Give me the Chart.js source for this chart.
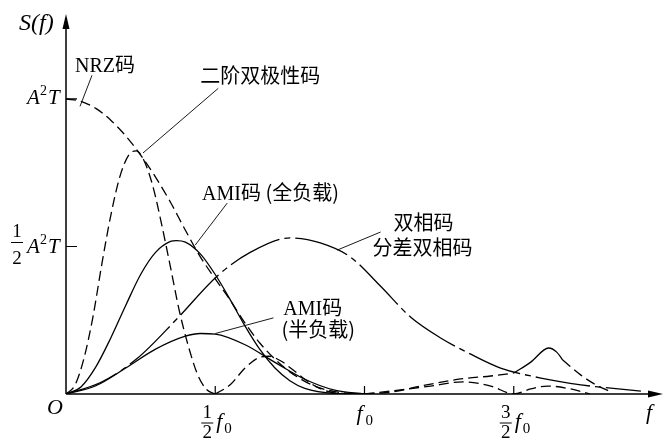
<!DOCTYPE html>
<html>
<head>
<meta charset="utf-8">
<script src="https://cdn.jsdelivr.net/npm/chart.js@4/dist/chart.umd.min.js"></script>
<style>
  html, body { margin: 0; padding: 0; background: #fff; }
  #wrap { width: 664px; height: 440px; }
</style>
</head>
<body>
<div id="wrap"><canvas id="chart" width="664" height="440"></canvas></div>
<script>
// frequency in units of f0, S(f) in units of A^2 T
const nrzX = [0, 0.05, 0.1, 0.15, 0.2, 0.25, 0.3, 0.35, 0.4, 0.45, 0.5, 0.55, 0.6, 0.65, 0.7, 0.75, 0.8, 0.85, 0.9, 0.95, 1.0];
const nrzY = [1.0, 0.992, 0.968, 0.928, 0.875, 0.810, 0.735, 0.650, 0.555, 0.465, 0.390, 0.318, 0.240, 0.172, 0.118, 0.075, 0.043, 0.021, 0.008, 0.002, 0];

const duoX = [0, 0.03, 0.06, 0.09, 0.12, 0.15, 0.18, 0.21, 0.235, 0.26, 0.29, 0.32, 0.35, 0.38, 0.41, 0.44, 0.47, 0.5];
const duoY = [0, 0.03, 0.12, 0.26, 0.44, 0.605, 0.735, 0.81, 0.824, 0.794, 0.708, 0.577, 0.43, 0.28, 0.162, 0.068, 0.016, 0];
const duo2X = [0.5, 0.55, 0.6, 0.65, 0.68, 0.72, 0.76, 0.8, 0.85, 0.9, 0.95, 1.0];
const duo2Y = [0, 0.031, 0.088, 0.125, 0.128, 0.112, 0.082, 0.05, 0.019, 0.004, 0.001, 0];

const lowTailX = [1.0, 1.121, 1.221, 1.329, 1.423, 1.5, 1.557, 1.614, 1.691, 1.755];
const lowTailY = [0, 0.014, 0.027, 0.041, 0.027, 0, 0.017, 0.027, 0.017, 0];

const upTailX = [1.0, 1.1, 1.188, 1.322, 1.423, 1.5];
const upTailY = [0, 0.008, 0.027, 0.051, 0.061, 0.071];
const bumpX = [1.5, 1.557, 1.617, 1.644, 1.664];
const bumpY = [0.071, 0.108, 0.156, 0.142, 0.115];
const bumpTailX = [1.664, 1.725, 1.775, 1.826];
const bumpTailY = [0.115, 0.064, 0.031, 0.007];

const biphaseX = [0, 0.114, 0.238, 0.372, 0.507, 0.617, 0.752, 0.852, 0.953, 1.054, 1.154, 1.255, 1.356, 1.456, 1.591, 1.725, 1.926];
const biphaseY = [0, 0.038, 0.12, 0.255, 0.4, 0.48, 0.529, 0.512, 0.464, 0.365, 0.261, 0.190, 0.135, 0.088, 0.054, 0.031, 0.010];

const amiFullX = [0, 0.05, 0.1, 0.15, 0.2, 0.25, 0.3, 0.35, 0.37, 0.4, 0.45, 0.5, 0.55, 0.6, 0.65, 0.7, 0.75, 0.8, 0.9, 1.0];
const amiFullY = [0, 0.024, 0.092, 0.19, 0.30, 0.405, 0.48, 0.517, 0.52, 0.515, 0.475, 0.405, 0.32, 0.23, 0.15, 0.088, 0.045, 0.019, 0.002, 0];

const amiHalfX = [0, 0.1, 0.2, 0.3, 0.4, 0.45, 0.5, 0.6, 0.7, 0.8, 0.9, 1.0];
const amiHalfY = [0, 0.028, 0.088, 0.152, 0.196, 0.205, 0.203, 0.167, 0.107, 0.05, 0.013, 0];

const xTicks = [0.5, 1.0, 1.5];
const xTickNum = ['1', '', '3'];
const yTicks = [1.0, 0.5];

const DASH = [10, 5];
const DASHDOT = [55, 5, 6, 5];

function pts(xs, ys) {
    return xs.map((x, i) => ({ x: x, y: ys[i] }));
}

function curve(xs, ys, dash) {
    return {
        data: pts(xs, ys),
        borderColor: '#000',
        borderWidth: 1.3,
        borderDash: dash,
        pointRadius: 0,
        fill: false,
        cubicInterpolationMode: 'monotone'
    };
}

const serif = '"Liberation Serif", "DejaVu Serif", serif';
const cjk = '"Noto Sans CJK SC", sans-serif';

// axes with arrows, ticks, labels and leader lines
const decor = {
    id: 'decor',
    afterDraw(chart) {
        const ctx = chart.ctx;
        const xs = chart.scales.x, ys = chart.scales.y;
        const X = v => xs.getPixelForValue(v);
        const Y = v => ys.getPixelForValue(v);
        const x0 = X(0), y0 = Y(0);
        const top = chart.chartArea.top, right = chart.chartArea.right;

        ctx.save();
        ctx.strokeStyle = '#000';
        ctx.fillStyle = '#000';
        ctx.lineWidth = 1.5;
        ctx.setLineDash([]);
        ctx.beginPath();
        ctx.moveTo(x0, y0); ctx.lineTo(x0, top + 6);
        ctx.moveTo(x0, y0); ctx.lineTo(right - 6, y0);
        ctx.stroke();
        ctx.beginPath();
        ctx.moveTo(x0, top); ctx.lineTo(x0 - 3.5, top + 15); ctx.lineTo(x0 + 3.5, top + 15);
        ctx.closePath(); ctx.fill();
        ctx.beginPath();
        ctx.moveTo(right, y0); ctx.lineTo(right - 15, y0 - 3.5); ctx.lineTo(right - 15, y0 + 3.5);
        ctx.closePath(); ctx.fill();

        ctx.lineWidth = 1.2;
        ctx.beginPath();
        xTicks.forEach(v => { ctx.moveTo(X(v), y0); ctx.lineTo(X(v), y0 - 8); });
        yTicks.forEach(v => { ctx.moveTo(x0, Y(v)); ctx.lineTo(x0 + 11, Y(v)); });
        ctx.stroke();

        // leader lines
        ctx.lineWidth = 0.9;
        ctx.beginPath();
        ctx.moveTo(X(0.087), Y(1.08)); ctx.lineTo(X(0.047), Y(0.975));
        ctx.moveTo(X(0.510), Y(1.036)); ctx.lineTo(X(0.258), Y(0.817));
        ctx.moveTo(X(0.540), Y(0.647)); ctx.lineTo(X(0.433), Y(0.505));
        ctx.moveTo(X(1.054), Y(0.549)); ctx.lineTo(X(0.909), Y(0.488));
        ctx.moveTo(X(0.695), Y(0.258)); ctx.lineTo(X(0.500), Y(0.205));
        ctx.stroke();

        ctx.textBaseline = 'alphabetic';
        ctx.textAlign = 'left';
        // axis names
        ctx.font = 'italic 24px ' + serif;
        ctx.fillText('S(f)', x0 - 47, top + 16);
        ctx.font = 'italic 22px ' + serif;
        ctx.fillText('f', right - 17, y0 + 25);
        ctx.fillText('O', x0 - 19, y0 + 20);

        // y tick labels
        const aT = (xr, yb) => {
            ctx.font = 'italic 21px ' + serif;
            ctx.fillText('A', xr - 39, yb);
            ctx.font = '14px ' + serif;
            ctx.fillText('2', xr - 26, yb - 9);
            ctx.font = 'italic 21px ' + serif;
            ctx.fillText('T', xr - 18, yb);
        };
        aT(x0, Y(1.0) + 5);
        aT(x0, Y(0.5) + 7);
        ctx.font = '19px ' + serif;
        ctx.textAlign = 'center';
        ctx.fillText('1', x0 - 49, Y(0.5) - 9);
        ctx.fillText('2', x0 - 49, Y(0.5) + 18);
        ctx.lineWidth = 1;
        ctx.beginPath(); ctx.moveTo(x0 - 55, Y(0.5) - 4); ctx.lineTo(x0 - 43, Y(0.5) - 4); ctx.stroke();

        // x tick labels
        xTicks.forEach((v, i) => {
            const px = X(v);
            if (xTickNum[i]) {
                ctx.font = '19px ' + serif;
                ctx.textAlign = 'center';
                ctx.fillText(xTickNum[i], px - 8, y0 + 24);
                ctx.fillText('2', px - 8, y0 + 44);
                ctx.beginPath(); ctx.moveTo(px - 14, y0 + 29); ctx.lineTo(px - 2, y0 + 29); ctx.stroke();
                ctx.textAlign = 'left';
                ctx.font = 'italic 22px ' + serif;
                ctx.fillText('f', px + 1, y0 + 34);
                ctx.font = '15px ' + serif;
                ctx.fillText('0', px + 9, y0 + 39);
            } else {
                ctx.textAlign = 'left';
                ctx.font = 'italic 22px ' + serif;
                ctx.fillText('f', px - 8, y0 + 26);
                ctx.font = '15px ' + serif;
                ctx.fillText('0', px + 1, y0 + 31);
            }
        });

        // curve labels
        ctx.textAlign = 'left';
        const mixed = (parts, px, py) => {
            let cx = px;
            parts.forEach(p => {
                ctx.font = p[1] ? '20px ' + cjk : '20px ' + serif;
                ctx.fillText(p[0], cx, py);
                cx += ctx.measureText(p[0]).width;
            });
        };
        mixed([['NRZ', 0], ['码', 1]], X(0.030), Y(1.09));
        mixed([['二阶双极性码', 1]], X(0.450), Y(1.054));
        mixed([['AMI', 0], ['码 (全负载)', 1]], X(0.456), Y(0.658));
        mixed([['双相码', 1]], X(1.097), Y(0.556));
        mixed([['分差双相码', 1]], X(1.027), Y(0.471));
        mixed([['AMI', 0], ['码', 1]], X(0.728), Y(0.268));
        mixed([['(半负载)', 1]], X(0.722), Y(0.193));
        ctx.restore();
    }
};

new Chart(document.getElementById('chart').getContext('2d'), {
    type: 'line',
    data: {
        datasets: [
            curve(nrzX, nrzY, DASH),
            curve(duoX, duoY, DASH),
            curve(duo2X, duo2Y, DASH),
            curve(lowTailX, lowTailY, DASH),
            curve(upTailX, upTailY, DASH),
            curve(bumpX, bumpY, []),
            curve(bumpTailX, bumpTailY, DASH),
            curve(biphaseX, biphaseY, DASHDOT),
            curve(amiFullX, amiFullY, []),
            curve(amiHalfX, amiHalfY, [])
        ]
    },
    options: {
        responsive: false,
        animation: false,
        layout: { padding: { left: 66, right: 1, top: 14, bottom: 46 } },
        plugins: { legend: { display: false }, tooltip: { enabled: false } },
        scales: {
            x: { type: 'linear', min: 0, max: 2.0, display: false },
            y: { type: 'linear', min: 0, max: 1.288, display: false }
        }
    },
    plugins: [decor]
});
</script>
</body>
</html>
